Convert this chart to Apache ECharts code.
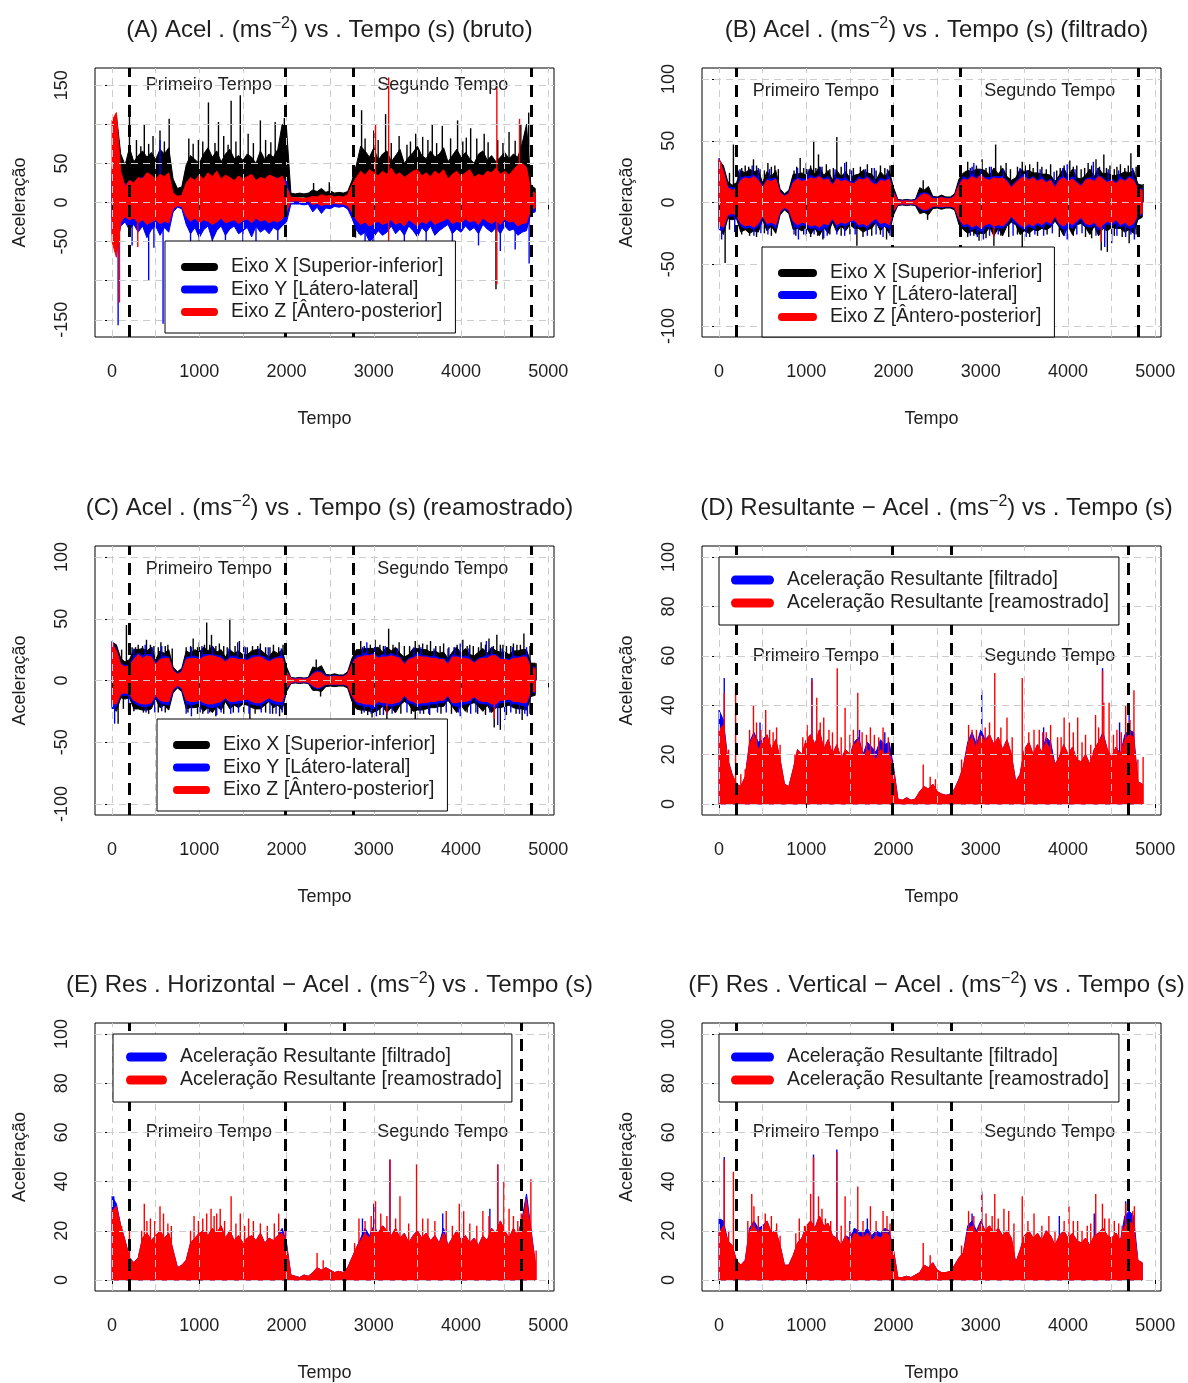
<!DOCTYPE html>
<html>
<head>
<meta charset="utf-8">
<script src="https://cdn.jsdelivr.net/npm/echarts@6/dist/echarts.min.js"></script>
<style>
  html, body { margin: 0; padding: 0; background: #fff; }
  #c { width: 1188px; height: 1383px; }
</style>
</head>
<body>
<div id="c"></div>
<script>
// Envelope samples every 50 s (0 … 4850 s): max / min of each signal inside the bin.
const passo = 50;

// ---------- (A) bruto ----------
const aXMax = [40,112,62,48,70,52,60,66,58,64, 55,68,62,70,30,18,20,48,60,55, 50,62,70,58,66,52,62,68,56,60, 54,62,58,50,66,55,62,58,68,100, 95,12,11,12,11,12,16,14,18,13, 15,12,13,12,14,28,48,72,66,58, 70,54,62,66,52,60,68,50,58,64, 72,60,56,66,58,62,70,52,60,68, 58,64,56,50,62,66,54,60,52,58, 64,56,62,58,75,100,22,18];
const aXMin = [-20,-40,-25,-15,-22,-18,-24,-20,-26,-22, -18,-25,-20,-24,-12,-5,-6,-18,-24,-20, -26,-22,-25,-20,-28,-18,-22,-25,-20,-24, -18,-22,-26,-20,-24,-18,-22,-20,-25,-22, -18,7,7,7,7,6,-8,-4,-10,-5, -6,-3,-5,-4,-8,-15,-22,-28,-24,-30, -26,-22,-28,-24,-20,-26,-22,-28,-20,-24, -30,-22,-26,-20,-24,-28,-22,-18,-26,-24, -28,-20,-24,-22,-26,-20,-24,-28,-22,-26, -20,-24,-22,-28,-24,-30,-12,-10];
const aYMax = [30,50,35,22,28,25,30,32,35,28, 30,26,32,28,12,6,8,24,30,26, 32,28,30,25,33,27,30,28,26,31, 25,29,33,27,30,25,28,26,32,30, 28,3,3,3,3,3,6,5,8,5, 6,4,5,4,7,14,26,32,28,34, 30,27,33,29,25,31,28,26,30,33, 28,35,27,31,26,30,33,28,25,31, 29,33,26,30,28,32,27,30,35,29, 31,27,33,30,36,28,10,8];
const aYMin = [-40,-60,-30,-25,-35,-28,-38,-30,-45,-35, -30,-42,-32,-38,-12,-6,-8,-28,-40,-32, -45,-35,-30,-48,-36,-30,-42,-34,-30,-40, -36,-32,-44,-30,-38,-34,-40,-32,-36,-30, -25,-2,-2,-2,-3,-2,-12,-6,-14,-7, -8,-5,-6,-5,-8,-20,-35,-42,-38,-50, -44,-36,-42,-38,-30,-40,-34,-42,-30,-36, -44,-32,-38,-30,-42,-36,-32,-28,-40,-34, -38,-30,-36,-32,-40,-28,-34,-38,-32,-40, -30,-36,-34,-42,-38,-36,-14,-12];
const aZMax = [105,115,40,20,28,25,32,30,38,35, 30,36,33,38,12,8,9,25,32,28, 35,30,38,33,40,30,35,32,28,34, 30,33,36,28,32,30,35,33,30,34, 20,6,6,6,5,6,8,7,10,8, 9,7,8,7,10,22,32,40,35,42, 38,34,40,36,44,35,38,32,36,40, 42,34,38,33,40,36,42,30,36,40, 34,38,42,32,36,34,40,38,44,36, 40,35,42,48,50,45,15,12];
const aZMin = [-50,-70,-25,-18,-22,-20,-26,-22,-28,-25, -22,-27,-24,-26,-8,-4,-5,-18,-24,-20, -26,-22,-24,-28,-25,-20,-26,-24,-22,-27, -23,-21,-26,-20,-24,-22,-26,-23,-25,-21, -12,2,2,2,1,2,-3,-1,-4,-2, -3,-1,-2,-2,-4,-12,-22,-28,-25,-30, -27,-24,-28,-26,-22,-28,-25,-30,-22,-26, -30,-24,-27,-22,-28,-25,-23,-20,-27,-24, -26,-21,-25,-23,-28,-20,-24,-27,-23,-28, -21,-25,-24,-30,-27,-26,-8,-7];
// isolated peaks [time, value]
const aXPicos = [[200,125],[280,80],[330,72],[370,100],[420,75],[470,85],[550,92],[600,78],[655,107],[880,82],[930,75],[990,80],[1040,78],[1105,128],[1180,76],[1220,103],[1280,85],[1330,74],[1365,130],[1420,78],[1470,137],[1560,88],[1620,76],[1700,105],[1760,80],[1820,77],[1870,103],[1975,108],[2310,25],[2490,26],[2860,118],[2900,82],[3000,92],[3050,80],[3135,113],[3200,76],[3290,85],[3380,74],[3420,78],[3480,88],[3560,84],[3620,80],[3670,100],[3720,76],[3785,98],[3880,82],[3960,105],[4020,78],[4060,83],[4110,95],[4180,82],[4265,88],[4310,77],[4420,80],[4480,76],[4550,90],[4620,79],[4685,100],[4775,115],[2790,-45],[2830,-40],[4400,-111]];
const aYPicos = [[550,80],[70,-157],[230,-55],[420,-100],[480,-58],[585,-155],[900,-60],[1000,-52],[1150,-62],[1300,-48],[1500,-55],[1650,-50],[1900,-48],[2900,-62],[2990,-70],[3350,-55],[3600,-60],[3900,-58],[4200,-55],[4450,-62],[4620,-60],[4780,-78]];
const aZPicos = [[85,-128],[295,-57],[3020,100],[3170,160],[3170,-49],[4410,148],[4410,-105],[4670,107]];

// ---------- (B) filtrado ----------
const bXMax = [34,30,17,14,16,26,24,27,25,26, 16,25,21,26,11,7,10,23,23,24, 22,28,23,29,22,26,18,26,21,25, 20,22,23,26,24,23,18,25,21,26, 12,2.5,2,2.5,2,2.5,12,10,13,5, 4.5,6,4.5,4.5,7,19,24,26,25,27, 27,26,22,28,23,28,21,18,20,27, 25,26,24,24,23,23,22,17,22,28, 21,27,20,19,22,27,21,28,23,24, 22,22,23,25,24,26,15,14];
const bXMin = [-20,-26,-13,-14,-13,-24,-22,-25,-23,-24, -14,-23,-19,-25,-10,-6,-9,-22,-21,-23, -20,-26,-21,-27,-20,-25,-16,-24,-19,-23, -18,-21,-21,-24,-22,-21,-16,-23,-19,-25, -10,-2.5,-2,-2.5,-2,-2.5,-9,-8,-10,-5, -4.5,-5.5,-4.5,-4.5,-6,-18,-22,-25,-23,-26, -25,-25,-20,-27,-21,-27,-19,-16,-18,-26, -23,-25,-22,-23,-21,-22,-20,-15,-20,-27, -19,-26,-18,-17,-20,-26,-19,-27,-21,-23, -20,-21,-21,-24,-22,-25,-14,-12];
const bYMax = [36,26,13,12,12,20,21,21,22,20, 13,19,19,20,9,5.5,8,18,20,19, 19,22,20,22,19,21,15,20,19,20, 17,16,21,19,21,18,15,20,18,21, 9,2,1.5,2,1.5,2,7,8,7,4, 3.5,4.5,3.5,3.5,5.5,15,21,19,23,20, 23,20,20,21,21,21,18,13,17,20, 23,19,21,18,21,17,19,13,20,21, 18,21,17,14,19,20,19,22,20,17, 19,16,21,18,21,20,12,11];
const bYMin = [-22,-22,-11,-11,-11,-19,-21,-20,-22,-19, -12,-19,-18,-21,-8,-5,-7,-17,-21,-18, -19,-21,-20,-23,-20,-20,-14,-20,-18,-19, -17,-16,-20,-19,-21,-17,-15,-20,-19,-21, -8,-2,-1.5,-2,-1.5,-2,-5,-7,-6,-3.5, -3.5,-4,-3.5,-3.5,-4.5,-14,-20,-19,-22,-20, -24,-20,-19,-21,-20,-21,-18,-12,-17,-20, -22,-19,-21,-18,-20,-17,-19,-12,-19,-22, -19,-21,-17,-13,-19,-20,-18,-22,-21,-17, -19,-16,-20,-18,-21,-20,-11,-10];
const bZMax = [35,25,12,10,11,18,20,19,21,18, 12,18,17,19,8,5,7,16,19,17, 18,20,19,21,18,19,14,19,17,18, 16,15,19,18,20,16,14,18,17,19, 8,1.5,1,1.5,1,1.5,5,7,6,3, 3,4,3,3,5,14,19,18,21,19, 22,19,18,20,19,20,17,12,16,19, 21,18,20,17,19,16,18,12,18,20, 17,19,16,13,18,19,17,21,19,16, 18,15,19,17,20,18,11,10];
const bZMin = [-18,-20,-10,-9,-10,-17,-19,-18,-20,-17, -11,-17,-16,-18,-7,-4,-6,-15,-18,-16, -17,-19,-18,-20,-17,-18,-13,-18,-16,-17, -15,-14,-18,-17,-19,-15,-13,-17,-16,-18, -7,-1.5,-1,-1.5,-1,-1.5,-4,-6,-5,-3, -3,-3.5,-3,-3,-4,-13,-18,-17,-20,-18, -21,-18,-17,-19,-18,-19,-16,-11,-15,-18, -20,-17,-19,-16,-18,-15,-17,-11,-17,-19, -16,-18,-15,-12,-17,-18,-16,-20,-18,-15, -17,-14,-18,-16,-19,-17,-10,-9];
const bXPicos = [[120,24],[165,47],[220,26],[260,28],[300,30],[340,29],[395,35],[430,30],[470,27],[520,26],[560,32],[600,29],[640,30],[680,27],[860,26],[890,29],[930,36],[970,28],[1000,32],[1050,30],[1085,50],[1110,28],[1140,39],[1180,29],[1230,31],[1270,27],[1310,28],[1350,53],[1400,29],[1460,33],[1500,27],[1540,28],[1620,29],[1660,27],[1700,31],[1750,28],[1800,26],[1850,30],[1900,28],[1960,30],[2340,18],[2850,33],[2900,29],[2950,30],[3015,35],[3060,28],[3100,29],[3170,47],[3230,30],[3290,32],[3340,27],[3420,29],[3475,33],[3510,30],[3560,31],[3600,28],[3650,33],[3700,29],[3750,27],[3800,31],[3870,26],[3910,28],[3955,30],[4020,34],[4060,29],[4100,30],[4150,27],[4190,28],[4230,32],[4270,30],[4320,35],[4360,29],[4410,39],[4440,28],[4480,30],[4530,27],[4560,29],[4600,31],[4650,28],[4690,30],[4720,40],[4780,29],[4860,15],
  [70,-49],[120,-22],[260,-26],[350,-27],[430,-28],[520,-25],[600,-27],[880,-27],[970,-26],[1050,-28],[1130,-27],[1190,-30],[1270,-26],[1400,-27],[1500,-26],[1580,-35],[1650,-28],[1750,-27],[1850,-26],[1920,-30],[2390,-14],[2850,-28],[2920,-27],[2980,-31],[3060,-29],[3150,-35],[3230,-27],[3320,-28],[3420,-26],[3475,-36],[3560,-28],[3650,-27],[3760,-26],[3900,-28],[4060,-27],[4200,-28],[4270,-29],[4380,-39],[4450,-40],[4530,-27],[4620,-28],[4700,-33],[4780,-26]];
const bYPicos = [[240,27],[380,30],[450,28],[580,27],[900,28],[1020,27],[1160,29],[1330,27],[1440,32],[1520,26],[1680,27],[1780,28],[1930,27],[2880,28],[2920,32],[3000,27],[3120,29],[3260,27],[3450,28],[3530,26],[3680,27],[3840,25],[3940,28],[3990,31],[4080,27],[4290,33],[4340,28],[4460,27],[4580,26],[4740,28],
  [30,-30],[180,-24],[400,-27],[480,-25],[560,-26],[860,-26],[910,-30],[1000,-27],[1090,-26],[1200,-29],[1240,-27],[1350,-26],[1440,-27],[1560,-26],[1700,-27],[1800,-26],[1880,-28],[1960,-27],[2880,-27],[2960,-28],[3030,-30],[3100,-27],[3200,-26],[3370,-27],[3520,-28],[3620,-26],[3720,-27],[3820,-25],[3960,-27],[3990,-30],[4100,-26],[4160,-25],[4320,-27],[4420,-36],[4500,-33],[4560,-27],[4660,-28],[4720,-26],[4760,-30]];
const bZPicos = [[20,33],[3150,-28],[4380,-32]];

// ---------- (C) reamostrado ----------
const cXMax = [31,29,18,15,17,25,25,26,24,27, 17,24,22,25,11,7,10,24,22,25, 23,27,24,28,23,25,19,25,22,24, 21,21,24,25,25,22,19,24,22,25, 11,2.5,2,2.5,2,2.5,11,10,12,5, 4.5,5.5,4.5,4.5,7,18,25,25,26,26, 26,27,23,27,24,27,22,19,21,26, 26,25,25,23,24,22,23,18,23,27, 22,26,21,20,23,26,22,27,24,23, 23,21,24,24,25,25,14,14];
const cXMin = [-21,-25,-14,-15,-14,-23,-23,-24,-24,-23, -15,-22,-20,-24,-10,-6,-9,-23,-22,-22, -21,-25,-22,-26,-21,-24,-17,-23,-20,-22, -19,-20,-22,-23,-23,-20,-17,-22,-20,-24, -9,-2.5,-2,-2.5,-2,-2.5,-8,-8,-9,-5, -4.5,-5,-4.5,-4.5,-6,-17,-23,-24,-24,-25, -26,-24,-21,-26,-22,-26,-20,-17,-19,-25, -24,-24,-23,-22,-22,-21,-21,-16,-21,-26, -20,-25,-19,-18,-21,-25,-20,-26,-22,-22, -21,-20,-22,-23,-23,-24,-13,-12];
const cYMax = [32,25,14,12,13,19,22,20,21,21, 14,18,20,19,9,5.5,8,19,19,20, 18,21,21,21,20,20,16,19,20,18, 18,17,20,20,20,19,16,18,19,20, 8,2,1.5,2,1.5,2,6,8,7,4, 3.5,4,3.5,3.5,5.5,14,20,20,22,21, 22,19,21,20,22,20,19,14,18,19, 22,20,20,19,20,18,18,14,21,20, 19,20,18,15,18,19,20,21,21,18, 18,17,20,19,20,21,11,11];
const cYMin = [-23,-21,-12,-12,-12,-18,-20,-21,-21,-20, -13,-18,-19,-20,-8,-5,-7,-18,-20,-19, -18,-20,-21,-22,-21,-19,-15,-19,-19,-18, -18,-17,-19,-20,-20,-18,-16,-19,-19,-20, -7,-2,-1.5,-2,-1.5,-2,-5,-7,-6,-3.5, -3.5,-3.5,-3.5,-3.5,-4.5,-13,-19,-20,-21,-21, -23,-19,-20,-20,-21,-20,-19,-13,-18,-19, -21,-20,-20,-19,-19,-18,-18,-13,-20,-21, -20,-19,-18,-14,-18,-19,-19,-21,-22,-18, -18,-17,-19,-19,-20,-21,-10,-10];
const cZMax = [30,24,13,11,12,17,21,18,20,19, 13,17,18,18,8,5,7,17,18,18, 17,19,20,20,19,18,15,18,18,17, 17,16,18,19,19,17,15,17,18,18, 7,1.5,1,1.5,1,1.5,5,7,6,3, 3,3.5,3,3,5,13,18,19,20,20, 21,18,19,19,20,19,18,13,17,18, 20,19,19,18,18,17,17,13,19,19, 18,18,17,14,17,18,18,20,20,17, 17,16,18,18,19,19,10,10];
const cZMin = [-19,-19,-11,-10,-11,-16,-18,-19,-19,-18, -12,-16,-17,-17,-7,-4,-6,-16,-17,-17, -16,-18,-19,-19,-18,-17,-14,-17,-17,-16, -16,-15,-17,-18,-18,-16,-14,-16,-17,-17, -6,-1.5,-1,-1.5,-1,-1.5,-4,-6,-5,-3, -3,-3,-3,-3,-4,-12,-17,-18,-19,-19, -20,-17,-18,-18,-19,-18,-17,-12,-16,-17, -19,-18,-18,-17,-17,-16,-16,-12,-18,-18, -17,-17,-16,-13,-16,-17,-17,-19,-19,-16, -16,-15,-17,-17,-18,-18,-9,-9];
const cXPicos = [[110,25],[165,45],[230,27],[270,27],[300,29],[350,28],[395,33],[440,29],[480,28],[530,27],[560,31],[610,28],[640,29],[690,26],[850,27],[900,28],[930,34],[980,27],[1000,31],[1060,29],[1085,47],[1120,29],[1140,37],[1190,28],[1230,30],[1280,28],[1320,27],[1350,50],[1410,28],[1460,32],[1510,28],[1550,27],[1610,28],[1670,28],[1700,30],[1760,27],[1810,27],[1850,29],[1910,27],[1960,29],[2340,17],[2850,32],[2890,28],[2960,29],[3015,33],[3070,29],[3110,28],[3170,42],[3220,29],[3290,31],[3350,28],[3410,28],[3475,32],[3520,29],[3560,30],[3610,29],[3650,32],[3710,28],[3760,28],[3800,30],[3860,27],[3920,27],[3955,29],[4020,33],[4070,28],[4100,29],[4140,28],[4200,27],[4230,31],[4280,29],[4320,34],[4370,28],[4410,37],[4450,29],[4480,29],[4520,28],[4570,28],[4600,30],[4640,29],[4680,29],[4720,38],[4790,28],[4860,14],
  [70,-35],[130,-23],[250,-25],[360,-26],[420,-27],[530,-26],[610,-26],[870,-26],[980,-27],[1040,-27],[1120,-26],[1190,-29],[1280,-27],[1390,-26],[1510,-27],[1580,-34],[1640,-27],[1760,-26],[1840,-27],[1920,-29],[2390,-13],[2860,-27],[2930,-28],[2980,-30],[3070,-28],[3150,-35],[3240,-26],[3310,-27],[3430,-27],[3475,-34],[3570,-27],[3640,-28],[3770,-27],[3890,-27],[4070,-26],[4190,-27],[4280,-28],[4380,-38],[4450,-40],[4520,-28],[4630,-27],[4700,-32],[4790,-27]];
const cYPicos = [[250,26],[380,29],[460,27],[570,28],[910,27],[1030,28],[1150,28],[1340,26],[1440,31],[1530,27],[1690,26],[1790,27],[1940,26],[2870,27],[2920,31],[3010,28],[3130,28],[3270,26],[3460,27],[3540,27],[3690,26],[3850,26],[3930,27],[3990,30],[4090,26],[4290,32],[4350,27],[4470,26],[4590,27],[4750,27],
  [30,-35],[190,-25],[390,-26],[490,-26],[570,-25],[850,-27],[910,-29],[1010,-26],[1100,-27],[1200,-28],[1250,-26],[1360,-27],[1450,-26],[1570,-27],[1710,-26],[1810,-27],[1880,-27],[1950,-26],[2890,-26],[2970,-27],[3030,-29],[3110,-28],[3210,-27],[3380,-26],[3530,-27],[3630,-27],[3730,-26],[3830,-26],[3970,-26],[3990,-29],[4110,-27],[4170,-26],[4330,-26],[4420,-36],[4500,-32],[4570,-26],[4670,-27],[4730,-27],[4760,-29]];
const cZPicos = [[15,30],[3150,-27],[4380,-31]];

// ---------- (D) resultante ----------
const dFil = [38,34,18,12,8,7,11,25,29,25, 26,28,22,26,18,8,7,14,22,20, 26,28,24,30,22,26,20,24,18,22, 20,25,27,20,25,23,21,26,24,25, 15,2,1.5,2.5,1.5,2,5,7,6,8, 5,4,3.5,4,6,10,15,25,29,24, 30,26,28,24,27,22,26,20,9,12, 22,25,20,24,21,27,25,16,19,24, 20,23,18,17,20,16,22,25,29,22, 19,23,20,28,30,29,9,8];
const dRea = [30,32,18,12,8,7,11,24,28,22, 25,28,22,26,18,8,7,14,22,20, 26,28,24,30,22,26,20,24,18,22, 20,24,26,19,22,20,18,22,20,21, 14,2,1.5,2.5,1.5,2,5,7,6,8, 5,4,3.5,4,6,10,15,24,27,22, 28,25,28,24,27,22,26,20,9,12, 22,25,20,24,21,25,22,16,19,24, 20,23,18,17,20,16,22,25,28,22, 19,23,20,26,28,27,9,8];
const dFilPicos = [[60,51],[470,33],[1065,51],[1610,30],[1900,29],[3010,46],[3720,31],[4395,55],[4590,33],[4700,38]];
const dReaPicos = [[60,45],[110,22],[190,48],[250,12],[300,14],[350,30],[395,40],[430,33],[480,30],[535,38],[580,30],[620,29],[660,31],[700,24],[870,20],[960,27],[1010,32],[1065,50],[1120,43],[1160,33],[1200,35],[1260,30],[1300,29],[1355,55],[1400,27],[1445,39],[1500,28],[1540,30],[1590,45],[1640,29],[1690,28],[1735,31],[1780,28],[1830,27],[1880,31],[1940,27],[2340,16],[2420,11],[2480,10],[2780,18],[2860,32],[2900,30],[2950,30],[3050,31],[3100,33],[3160,53],[3230,31],[3300,35],[3360,27],[3475,51],[3550,29],[3610,30],[3670,30],[3710,29],[3750,29],[3800,32],[3880,27],[3920,27],[3955,35],[4015,33],[4060,29],[4110,35],[4160,25],[4200,28],[4260,24],[4315,36],[4350,31],[4395,54],[4410,41],[4470,41],[4520,28],[4560,30],[4610,29],[4660,40],[4710,34],[4755,46],[4800,18],[4860,19]];

// ---------- (E) resultante horizontal ----------
const eFil = [34,31,22,16,9,7,9,17,19,16, 18,20,17,19,12,5,6,8,15,17, 19,20,18,21,19,22,17,20,16,18, 15,17,18,16,19,15,17,16,18,21, 15,2,1.5,1,2,1.5,3,5,4,5, 4,3,3.5,3,5,9,13,17,21,18, 22,19,22,20,18,21,17,19,15,18, 20,17,19,16,18,15,21,14,17,20, 16,18,15,17,14,18,16,21,19,24, 20,17,21,18,25,35,21,7];
const eRea = [28,30,22,16,9,7,9,17,19,16, 18,20,17,19,12,5,6,8,15,17, 19,20,18,21,19,22,17,20,16,18, 15,17,18,16,19,15,17,16,18,19, 14,2,1.5,1,2,1.5,3,5,4,5, 4,3,3.5,3,5,9,13,16,19,17, 21,19,22,20,18,21,17,19,15,18, 20,17,19,16,18,15,19,14,17,20, 16,18,15,17,14,18,16,21,19,24, 20,17,21,18,24,32,20,7];
const eFilPicos = [[20,34],[1990,25],[2870,25],[3000,31],[3185,49],[3790,27],[4330,29],[4420,47]];
const eReaPicos = [[110,22],[200,25],[340,20],[370,31],[400,24],[440,25],[490,24],[550,30],[590,27],[640,23],[680,22],[900,20],[940,26],[990,24],[1040,25],[1085,27],[1135,29],[1170,26],[1200,27],[1240,29],[1290,24],[1365,34],[1420,23],[1470,27],[1520,22],[1565,25],[1620,24],[1700,23],[1780,22],[1860,23],[1910,27],[1985,25],[2350,11],[2420,8],[2780,15],[2830,25],[2900,24],[2970,26],[3020,32],[3080,27],[3150,26],[3185,49],[3250,25],[3300,34],[3400,23],[3490,47],[3560,25],[3620,25],[3700,24],[3830,28],[3900,22],[3980,31],[4030,28],[4100,23],[4180,22],[4250,28],[4320,26],[4420,47],[4490,40],[4550,29],[4600,26],[4650,24],[4690,27],[4745,33],[4800,41],[4860,12]];

// ---------- (F) resultante vertical ----------
const fFil = [25,24,16,14,8,6,8,21,24,21, 22,24,19,20,14,6,6,10,15,17, 22,24,21,26,22,23,18,17,14,18, 17,21,20,19,21,18,20,19,21,20, 12,1,1,1.5,1,2,3,6,5,7, 4,3,3,3.5,6,9,11,22,24,20, 24,20,22,19,21,18,20,17,7,12, 18,20,17,19,16,20,18,14,18,20, 17,19,16,15,17,14,18,19,21,18, 17,19,16,26,28,26,8,7];
const fRea = [19,22,16,14,8,6,8,20,22,19, 21,24,19,20,14,6,6,10,15,17, 22,24,21,26,22,23,18,17,14,18, 15,19,18,17,19,16,18,17,19,18, 12,1,1,1.5,1,2,3,6,5,7, 4,3,3,3.5,6,9,11,20,22,19, 23,20,22,19,21,18,20,17,7,12, 18,20,17,19,16,20,18,14,18,20, 17,19,16,15,17,14,18,19,21,18, 17,19,16,22,24,22,8,7];
const fFilPicos = [[60,50],[1083,51],[1350,53],[1500,24],[1700,25],[2900,27],[3010,36],[3900,26],[4300,27],[4660,32]];
const fReaPicos = [[60,49],[110,20],[165,44],[330,24],[375,35],[400,30],[450,26],[530,27],[600,26],[660,23],[700,18],[880,19],[920,25],[980,22],[1050,35],[1083,50],[1140,34],[1180,29],[1220,25],[1280,24],[1350,52],[1400,22],[1445,34],[1500,23],[1590,38],[1650,24],[1735,30],[1800,24],[1880,28],[1925,26],[1960,23],[2340,15],[2420,10],[2780,14],[2860,28],[2920,26],[3010,35],[3060,27],[3130,26],[3160,35],[3200,25],[3265,29],[3320,28],[3380,23],[3475,34],[3540,24],[3610,27],[3700,22],[3780,26],[3850,20],[3955,24],[4010,30],[4060,24],[4110,24],[4160,20],[4220,22],[4260,23],[4317,35],[4394,31],[4420,25],[4470,25],[4530,24],[4580,23],[4620,22],[4660,31],[4700,24],[4740,28],[4760,30]];

// half-time markers (s)
const quebrasABC = [200, 1985, 2765, 4800];
const quebrasDEF = [200, 1985, 2660, 4690];

// axis ticks
const xTicks = [0, 1000, 2000, 3000, 4000, 5000];
const xGrade = [0, 500, 1000, 1500, 2000, 2500, 3000, 3500, 4000, 4500, 5000];
const yTicksA = [-150, -100, -50, 0, 50, 100, 150];
const yRotulosA = [-150, -50, 0, 50, 150];
const yTicksBC = [-100, -50, 0, 50, 100];
const yTicksDEF = [0, 20, 40, 60, 80, 100];

// ---------------------------------------------------------------
const tempo = aXMax.map((_, i) => i * passo);
const PRETO = '#000000', AZUL = '#0000ff', VERM = '#ff0000';
const TXT = '#1e1e1e';
const FONT = '"Liberation Sans", Arial, sans-serif';
const nX = 'Eixo X [Superior-inferior]';
const nY = 'Eixo Y [Látero-lateral]';
const nZ = 'Eixo Z [Ântero-posterior]';
const nF = 'Aceleração Resultante [filtrado]';
const nR = 'Aceleração Resultante [reamostrado]';
const CAPSULA = 'path://M4,0H36A4,4,0,0,1,36,8H4A4,4,0,0,1,4,0Z';

const W = 459, H = 269;
const paineis = [
  { tit: ['(A) Acel . (ms', ') vs . Tempo (s) (bruto)'], left: 95, top: 68, ymin: -172, ymax: 172,
    yTicks: yTicksA, yRot: yRotulosA, quebras: quebrasABC, yTexto: 150,
    camadas: [
      { min: aXMin, max: aXMax, picos: aXPicos, cor: PRETO, nome: nX },
      { min: aYMin, max: aYMax, picos: aYPicos, cor: AZUL, nome: nY },
      { min: aZMin, max: aZMax, picos: aZPicos, cor: VERM, nome: nZ }],
    leg: { left: 165, top: 241, padding: [15, 12, 10, 16], iw: 37, ih: 8, gap: 0.5 } },
  { tit: ['(B) Acel . (ms', ') vs . Tempo (s) (filtrado)'], left: 702, top: 68, ymin: -109, ymax: 109,
    yTicks: yTicksBC, yRot: yTicksBC, quebras: quebrasABC, yTexto: 90,
    camadas: [
      { min: bXMin, max: bXMax, picos: bXPicos, cor: PRETO, nome: nX },
      { min: bYMin, max: bYMax, picos: bYPicos, cor: AZUL, nome: nY },
      { min: bZMin, max: bZMax, picos: bZPicos, cor: VERM, nome: nZ }],
    leg: { left: 762, top: 247, padding: [15, 12, 9, 16], iw: 39, ih: 8, gap: 0 } },
  { tit: ['(C) Acel . (ms', ') vs . Tempo (s) (reamostrado)'], left: 95, top: 546, ymin: -109, ymax: 109,
    yTicks: yTicksBC, yRot: yTicksBC, quebras: quebrasABC, yTexto: 90,
    camadas: [
      { min: cXMin, max: cXMax, picos: cXPicos, cor: PRETO, nome: nX },
      { min: cYMin, max: cYMax, picos: cYPicos, cor: AZUL, nome: nY },
      { min: cZMin, max: cZMax, picos: cZPicos, cor: VERM, nome: nZ }],
    leg: { left: 157, top: 719, padding: [15, 12, 10, 16], iw: 37, ih: 8, gap: 0.5 } },
  { tit: ['(D) Resultante − Acel . (ms', ') vs . Tempo (s)'], left: 702, top: 546, ymin: -4.5, ymax: 104.5,
    yTicks: yTicksDEF, yRot: yTicksDEF, quebras: quebrasDEF, yTexto: 60,
    camadas: [
      { max: dFil, picos: dFilPicos, cor: AZUL, nome: nF },
      { max: dRea, picos: dReaPicos, cor: VERM, nome: nR }],
    leg: { left: 719, top: 557, padding: [12, 10, 11, 12], iw: 43, ih: 9, gap: 1 } },
  { tit: ['(E) Res . Horizontal − Acel . (ms', ') vs . Tempo (s)'], left: 95, top: 1023, ymin: -4.5, ymax: 104.5,
    yTicks: yTicksDEF, yRot: yTicksDEF, quebras: quebrasDEF, yTexto: 60,
    camadas: [
      { max: eFil, picos: eFilPicos, cor: AZUL, nome: nF },
      { max: eRea, picos: eReaPicos, cor: VERM, nome: nR }],
    leg: { left: 113, top: 1034, padding: [12, 10, 11, 13], iw: 41, ih: 9, gap: 1 } },
  { tit: ['(F) Res . Vertical − Acel . (ms', ') vs . Tempo (s)'], left: 702, top: 1023, ymin: -4.5, ymax: 104.5,
    yTicks: yTicksDEF, yRot: yTicksDEF, quebras: quebrasDEF, yTexto: 60,
    camadas: [
      { max: fFil, picos: fFilPicos, cor: AZUL, nome: nF },
      { max: fRea, picos: fReaPicos, cor: VERM, nome: nR }],
    leg: { left: 719, top: 1034, padding: [12, 10, 11, 12], iw: 43, ih: 9, gap: 1 } }
];

paineis.forEach(p => p.camadas.forEach(c => {
  [c.min, c.max].forEach(a => { if (a && a.length !== tempo.length) throw new Error(p.tit[0] + ' ' + c.nome + ' length ' + a.length); });
}));

const option = { animation: false, backgroundColor: '#ffffff', grid: [], xAxis: [], yAxis: [], series: [], title: [], legend: [] };
const txt = (s) => Object.assign({ color: TXT, fontFamily: FONT, fontSize: 18, fontWeight: 'normal' }, s || {});

paineis.forEach((p, g) => {
  option.grid.push({ left: p.left, top: p.top, width: W, height: H, show: true,
    borderColor: '#000', borderWidth: 1, backgroundColor: 'transparent' });

  option.xAxis.push({ gridIndex: g, type: 'value', min: -195, max: 5065, z: 3,
    axisLine: { show: false }, splitLine: { show: false },
    axisTick: { show: true, inside: false, length: 7, lineStyle: { color: '#000' }, customValues: xTicks },
    axisLabel: Object.assign(txt(), { customValues: xTicks, margin: 26, formatter: v => String(v) }),
    name: 'Tempo', nameLocation: 'middle', nameGap: 73, nameTextStyle: txt() });

  option.yAxis.push({ gridIndex: g, type: 'value', min: p.ymin, max: p.ymax, z: 3,
    axisLine: { show: false }, splitLine: { show: false },
    axisTick: { show: true, inside: false, length: 7, lineStyle: { color: '#000' }, customValues: p.yTicks },
    axisLabel: Object.assign(txt(), { customValues: p.yRot, rotate: 90, margin: 24, formatter: v => String(v) }),
    name: 'Aceleração', nameLocation: 'middle', nameGap: 66, nameRotate: 90, nameTextStyle: txt() });

  option.title.push({ text: '{a|' + p.tit[0] + '}{s|−2}{a|' + p.tit[1] + '}',
    left: p.left + W / 2, top: p.top - 57, textAlign: 'center',
    textStyle: { fontWeight: 'normal', rich: {
      a: txt({ fontSize: 24 }),
      s: txt({ fontSize: 16, padding: [0, 0, 13, 0] }) } } });

  // signal layers, in drawing order
  p.camadas.forEach((c, k) => {
    const amostras = tempo.map((t, i) => [t, c.min ? c.min[i] : 0, c.max[i]]);
    option.series.push({ type: 'custom', name: c.nome, xAxisIndex: g, yAxisIndex: g,
      silent: true, clip: true, data: amostras, itemStyle: { color: c.cor },
      renderItem: (params, api) => {
        if (params.dataIndex !== 0) return null;
        const sup = amostras.map(d => api.coord([d[0], d[2]]));
        const inf = amostras.map(d => api.coord([d[0], d[1]])).reverse();
        return { type: 'polygon', shape: { points: sup.concat(inf) },
          style: { fill: c.cor, stroke: c.cor, lineWidth: 1, lineJoin: 'miter' } };
      } });
    option.series.push({ type: 'custom', name: '_picos' + g + k, xAxisIndex: g, yAxisIndex: g,
      silent: true, clip: true, data: c.picos,
      renderItem: (params, api) => {
        const a = api.coord([api.value(0), 0]);
        const b = api.coord([api.value(0), api.value(1)]);
        return { type: 'line', shape: { x1: a[0], y1: a[1], x2: b[0], y2: b[1] },
          style: { stroke: c.cor, lineWidth: 1.4 } };
      } });
  });

  // "Primeiro Tempo" / "Segundo Tempo" captions
  option.series.push({ type: 'custom', name: '_txt' + g, xAxisIndex: g, yAxisIndex: g, z: 3,
    silent: true, data: [[1110, p.yTexto, 'Primeiro Tempo'], [3790, p.yTexto, 'Segundo Tempo']],
    renderItem: (params, api) => {
      const pt = api.coord([api.value(0), api.value(1)]);
      const d = params.dataIndex === 0 ? 'Primeiro Tempo' : 'Segundo Tempo';
      return { type: 'text', x: pt[0], y: pt[1],
        style: { text: d, fill: TXT, font: '18px ' + FONT, align: 'center', verticalAlign: 'middle' } };
    } });

  // light dashed grid, drawn over the signals
  option.series.push({ type: 'line', name: '_grade' + g, xAxisIndex: g, yAxisIndex: g, data: [],
    silent: true, markLine: { silent: true, symbol: 'none', label: { show: false }, z: 5,
      lineStyle: { color: '#cccccc', width: 1, type: [7, 5] },
      data: xGrade.map(v => ({ xAxis: v })).concat(p.yTicks.map(v => ({ yAxis: v }))) } });

  // half boundaries
  option.series.push({ type: 'line', name: '_quebras' + g, xAxisIndex: g, yAxisIndex: g, data: [],
    silent: true, markLine: { silent: true, symbol: 'none', label: { show: false }, z: 6,
      lineStyle: { color: '#000', width: 3, type: [12, 8], cap: 'butt' },
      data: p.quebras.map(v => ({ xAxis: v })) } });

  option.legend.push({ left: p.leg.left, top: p.leg.top, orient: 'vertical', selectedMode: false,
    symbolKeepAspect: false, backgroundColor: '#ffffff', borderColor: '#000', borderWidth: 1,
    borderRadius: 0, padding: p.leg.padding, itemWidth: p.leg.iw, itemHeight: p.leg.ih,
    itemGap: p.leg.gap, z: 10,
    textStyle: txt({ fontSize: 19.5, lineHeight: 22, padding: [0, 0, 0, 8] }),
    data: p.camadas.map(c => ({ name: c.nome, icon: CAPSULA, itemStyle: { color: c.cor } })) });
});

const chart = echarts.init(document.getElementById('c'), null, { renderer: 'canvas', width: 1188, height: 1383 });
chart.setOption(option);
</script>
</body>
</html>
